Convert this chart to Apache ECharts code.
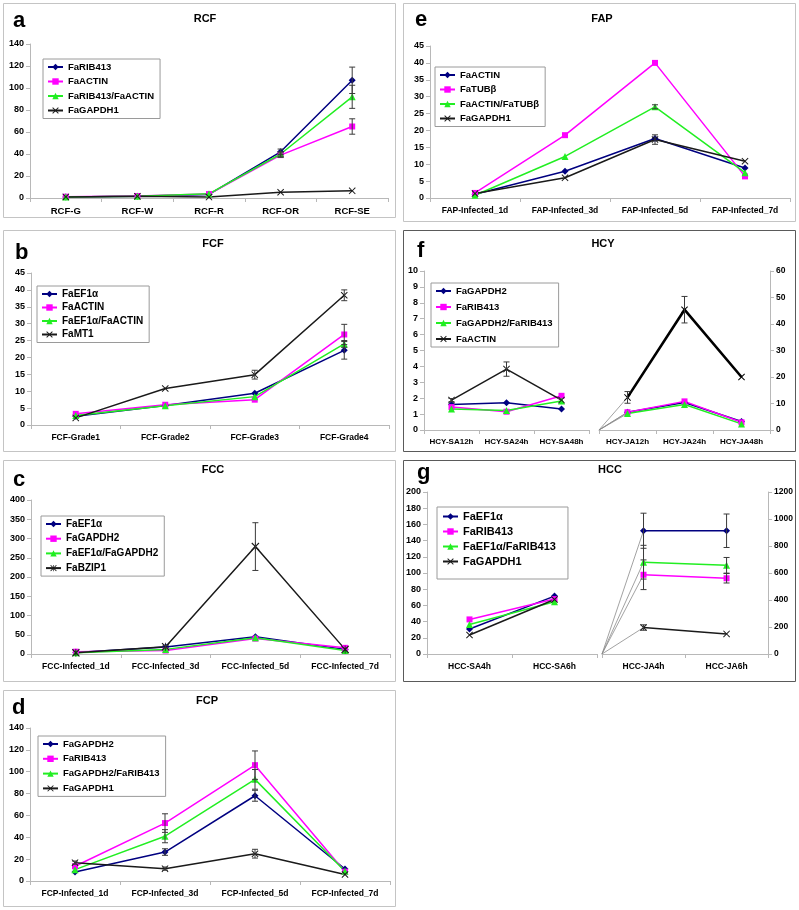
<!DOCTYPE html>
<html><head><meta charset="utf-8">
<script src="https://cdn.jsdelivr.net/npm/echarts@6/dist/echarts.min.js"></script>
<style>
html,body{margin:0;padding:0;background:#fff;}
body{width:799px;height:910px;position:relative;overflow:hidden;}
.p{position:absolute;}
</style></head><body>
<div id="pa" class="p"></div><div id="pb" class="p"></div><div id="pc" class="p"></div><div id="pd" class="p"></div>
<div id="pe" class="p"></div><div id="pf" class="p"></div><div id="pg" class="p"></div>
<script>
// ---------------- DATA ----------------
// a: RCF
const rcfCats = ['RCF-G','RCF-W','RCF-R','RCF-OR','RCF-SE'];
const rcfRIB413 = [1.0, 1.6, 3.2, 42, 107];
const rcfRIB413Err = [0, 0, 0, 2.5, 12];
const rcfACTIN = [1.2, 1.8, 3.6, 39, 65];
const rcfACTINErr = [0, 0, 0, 2, 7];
const rcfRatio = [0.8, 1.5, 3.8, 40, 92];
const rcfRatioErr = [0, 0, 0, 2, 10.5];
const rcfGAPDH1 = [1.0, 1.5, 0.8, 5.2, 6.5];
// b: FCF
const fcfCats = ['FCF-Grade1','FCF-Grade2','FCF-Grade3','FCF-Grade4'];
const fcfEF1a = [2.6, 5.8, 9.4, 22.1];
const fcfEF1aErr = [0, 0, 0, 2.6];
const fcfACTIN = [3.3, 6.0, 7.5, 26.8];
const fcfACTINErr = [0, 0, 0, 3];
const fcfRatio = [2.8, 5.7, 8.4, 24];
const fcfRatioErr = [0, 0, 0, 1];
const fcfMT1 = [2.1, 10.8, 14.9, 38.4];
const fcfMT1Err = [0, 0, 1.3, 1.6];
// c: FCC
const fccCats = ['FCC-Infected_1d','FCC-Infected_3d','FCC-Infected_5d','FCC-Infected_7d'];
const fccEF1a = [4, 18, 45, 12];
const fccGAPDH2 = [6, 9, 40, 16];
const fccRatio = [3, 12, 42, 9];
const fccBZIP1 = [3, 19, 279, 12];
const fccBZIP1Err = [0, 3, 62, 0];
// d: FCP
const fcpCats = ['FCP-Infected_1d','FCP-Infected_3d','FCP-Infected_5d','FCP-Infected_7d'];
const fcpGAPDH2 = [8.3, 26.5, 78, 11];
const fcpGAPDH2Err = [0, 3, 5, 0];
const fcpRIB413 = [13.5, 53, 106, 8.5];
const fcpRIB413Err = [0, 8.5, 13, 0];
const fcpRatio = [10.4, 41, 93, 9];
const fcpRatioErr = [0, 6, 9, 0];
const fcpGAPDH1 = [16.8, 11.3, 25, 6];
const fcpGAPDH1Err = [1.5, 1.5, 4, 0];
// e: FAP
const fapCats = ['FAP-Infected_1d','FAP-Infected_3d','FAP-Infected_5d','FAP-Infected_7d'];
const fapACTIN = [1.1, 7.9, 17.6, 8.9];
const fapTUBb = [1.5, 18.6, 40, 6.4];
const fapRatio = [0.8, 12.3, 27, 7.5];
const fapRatioErr = [0, 0, 0.6, 0];
const fapGAPDH1 = [1.3, 6, 17.3, 10.9];
const fapGAPDH1Err = [0, 0, 1.4, 0];
// f: HCY (SA on left axis, JA on right axis)
const hcySACats = ['HCY-SA12h','HCY-SA24h','HCY-SA48h'];
const hcyJACats = ['HCY-JA12h','HCY-JA24h','HCY-JA48h'];
const hcySAGAPDH2 = [1.61, 1.72, 1.32];
const hcySARIB413 = [1.44, 1.15, 2.15];
const hcySARatio = [1.32, 1.23, 1.82];
const hcySAACTIN = [1.88, 3.83, 1.88];
const hcySAACTINErr = [0.1, 0.45, 0];
const hcyJAGAPDH2 = [6.7, 10.4, 3.2];
const hcyJARIB413 = [6.7, 10.8, 2.9];
const hcyJARatio = [6.2, 9.6, 2.3];
const hcyJAACTIN = [12.3, 45.4, 20];
const hcyJAACTINErr = [2.2, 5, 0];
// g: HCC (SA on left axis, JA on right axis)
const hccSACats = ['HCC-SA4h','HCC-SA6h'];
const hccJACats = ['HCC-JA4h','HCC-JA6h'];
const hccSAEF1a = [30.8, 71.5];
const hccSARIB413 = [42.7, 67.8];
const hccSARatio = [36.5, 64.5];
const hccSAGAPDH1 = [23.4, 67.3];
const hccJAEF1a = [913, 913];
const hccJAEF1aErr = [130, 124];
const hccJARIB413 = [587, 561];
const hccJARIB413Err = [110, 35];
const hccJARatio = [680, 657];
const hccJARatioErr = [125, 58];
const hccJAGAPDH1 = [196, 149];
const hccJAGAPDH1Err = [20, 0];

// ---------------- STYLE ----------------
const FONT = 'Arial, "Liberation Sans", Helvetica, sans-serif';
const NAVY = '#000080', MAG = '#ff00ff', GRN = '#22ee22', BLK = '#1a1a1a';
const AXC = '#b8b8b8';
const XPATH = 'path://M0,1L1,0L5,4L9,0L10,1L6,5L10,9L9,10L5,6L1,10L0,9L4,5Z';
const SYM = {
  dia: ['diamond', 7], sq: ['rect', 6], tri: ['triangle', 7],
  x: [XPATH, 7], ast: [XPATH + 'M4.5,0L5.5,0L5.5,10L4.5,10Z', 8]
};

function S(name, color, sym, data, err, extra) {
  return Object.assign({name, color, sym, data, err}, extra || {});
}

const panels = [
  {id:'pa', box:[3,3,393,215], border:'#c4c4c4', letter:'a', letterPos:[13,28], title:'RCF', titlePos:[205,19],
   legend:{x:43, y:59, fs:9.5, pitch:14},
   plots:[{x0:30, x1:388, y0:44, y1:198, cats:rcfCats, yMax:140, yInt:20, lfs:9.5, series:[
     S('FaRIB413', NAVY, 'dia', rcfRIB413, rcfRIB413Err),
     S('FaACTIN', MAG, 'sq', rcfACTIN, rcfACTINErr),
     S('FaRIB413/FaACTIN', GRN, 'tri', rcfRatio, rcfRatioErr),
     S('FaGAPDH1', BLK, 'x', rcfGAPDH1, null)]}]},
  {id:'pb', box:[3,230,393,222], border:'#c4c4c4', letter:'b', letterPos:[15,260], title:'FCF', titlePos:[213,244],
   legend:{x:37, y:286, fs:10, pitch:13.5},
   plots:[{x0:31, x1:389, y0:273, y1:425, cats:fcfCats, yMax:45, yInt:5, lfs:8.5, series:[
     S('FaEF1α', NAVY, 'dia', fcfEF1a, fcfEF1aErr),
     S('FaACTIN', MAG, 'sq', fcfACTIN, fcfACTINErr),
     S('FaEF1α/FaACTIN', GRN, 'tri', fcfRatio, fcfRatioErr),
     S('FaMT1', BLK, 'x', fcfMT1, fcfMT1Err)]}]},
  {id:'pc', box:[3,460,393,222], border:'#c4c4c4', letter:'c', letterPos:[13,487], title:'FCC', titlePos:[213,470],
   legend:{x:41, y:516, fs:10, pitch:14.7},
   plots:[{x0:31, x1:390, y0:500, y1:654, cats:fccCats, yMax:400, yInt:50, lfs:8.5, series:[
     S('FaEF1α', NAVY, 'dia', fccEF1a, null),
     S('FaGAPDH2', MAG, 'sq', fccGAPDH2, null),
     S('FaEF1α/FaGAPDH2', GRN, 'tri', fccRatio, null),
     S('FaBZIP1', BLK, 'ast', fccBZIP1, fccBZIP1Err)]}]},
  {id:'pd', box:[3,690,393,217], border:'#c4c4c4', letter:'d', letterPos:[12,715], title:'FCP', titlePos:[207,701],
   legend:{x:38, y:736, fs:9.5, pitch:14.3},
   plots:[{x0:30, x1:390, y0:728, y1:881, cats:fcpCats, yMax:140, yInt:20, lfs:8.5, series:[
     S('FaGAPDH2', NAVY, 'dia', fcpGAPDH2, fcpGAPDH2Err),
     S('FaRIB413', MAG, 'sq', fcpRIB413, fcpRIB413Err),
     S('FaGAPDH2/FaRIB413', GRN, 'tri', fcpRatio, fcpRatioErr),
     S('FaGAPDH1', BLK, 'x', fcpGAPDH1, fcpGAPDH1Err)]}]},
  {id:'pe', box:[403,3,393,219], border:'#c4c4c4', letter:'e', letterPos:[415,27], title:'FAP', titlePos:[602,19],
   legend:{x:435, y:67, fs:9.5, pitch:14},
   plots:[{x0:430, x1:790, y0:46, y1:198, cats:fapCats, yMax:45, yInt:5, lfs:8.5, series:[
     S('FaACTIN', NAVY, 'dia', fapACTIN, null),
     S('FaTUBβ', MAG, 'sq', fapTUBb, null),
     S('FaACTIN/FaTUBβ', GRN, 'tri', fapRatio, fapRatioErr),
     S('FaGAPDH1', BLK, 'x', fapGAPDH1, fapGAPDH1Err)]}]},
  {id:'pf', box:[403,230,393,222], border:'#5a5a5a', letter:'f', letterPos:[417,258], title:'HCY', titlePos:[603,244],
   legend:{x:431, y:283, fs:9.5, pitch:15.5},
   plots:[
    {x0:424, x1:589, y0:271, y1:430, cats:hcySACats, yMax:10, yInt:1, lfs:8, series:[
     S('FaGAPDH2', NAVY, 'dia', hcySAGAPDH2, null),
     S('FaRIB413', MAG, 'sq', hcySARIB413, null),
     S('FaGAPDH2/FaRIB413', GRN, 'tri', hcySARatio, null),
     S('FaACTIN', BLK, 'x', hcySAACTIN, hcySAACTINErr)]},
    {x0:599, x1:770, y0:271, y1:430, cats:hcyJACats, yMax:60, yInt:10, lfs:8, split:true, series:[
     S('FaGAPDH2', NAVY, 'dia', hcyJAGAPDH2, null),
     S('FaRIB413', MAG, 'sq', hcyJARIB413, null),
     S('FaGAPDH2/FaRIB413', GRN, 'tri', hcyJARatio, null),
     S('FaACTIN', '#000', 'x', hcyJAACTIN, hcyJAACTINErr, {lw:2.6})]}]},
  {id:'pg', box:[403,460,393,222], border:'#5a5a5a', letter:'g', letterPos:[417,480], title:'HCC', titlePos:[610,470],
   legend:{x:437, y:507, fs:11, pitch:15, pad:[4, 12, 12, 5]},
   plots:[
    {x0:427, x1:597, y0:492, y1:654, cats:hccSACats, yMax:200, yInt:20, lfs:8.5, series:[
     S('FaEF1α', NAVY, 'dia', hccSAEF1a, null),
     S('FaRIB413', MAG, 'sq', hccSARIB413, null),
     S('FaEF1α/FaRIB413', GRN, 'tri', hccSARatio, null),
     S('FaGAPDH1', BLK, 'x', hccSAGAPDH1, null)]},
    {x0:602, x1:770, y0:492, y1:654, cats:hccJACats, yMax:1200, yInt:200, lfs:8.5, split:true, series:[
     S('FaEF1α', NAVY, 'dia', hccJAEF1a, hccJAEF1aErr),
     S('FaRIB413', MAG, 'sq', hccJARIB413, hccJARIB413Err),
     S('FaEF1α/FaRIB413', GRN, 'tri', hccJARatio, hccJARatioErr),
     S('FaGAPDH1', BLK, 'x', hccJAGAPDH1, hccJAGAPDH1Err)]}]}
];

function errSeries(gi, items) {
  return {
    type: 'custom', xAxisIndex: gi, yAxisIndex: gi, silent: true, z: 3,
    encode: {x: 0, y: 1},
    renderItem: function (params, api) {
      const x = api.value(0), y = api.value(1), e = api.value(2);
      const t = api.coord([x, y + e]), b = api.coord([x, y - e]);
      const w = 3, st = {stroke: '#3a3a3a', lineWidth: 1};
      return {type: 'group', children: [
        {type: 'line', shape: {x1: t[0], y1: t[1], x2: b[0], y2: b[1]}, style: st},
        {type: 'line', shape: {x1: t[0] - w, y1: t[1], x2: t[0] + w, y2: t[1]}, style: st},
        {type: 'line', shape: {x1: b[0] - w, y1: b[1], x2: b[0] + w, y2: b[1]}, style: st}
      ]};
    },
    data: items
  };
}

function build(p) {
  const [ox, oy, w, h] = p.box;
  const el = document.getElementById(p.id);
  el.style.left = ox + 'px'; el.style.top = oy + 'px';
  el.style.width = w + 'px'; el.style.height = h + 'px';
  const chart = echarts.init(el, null, {renderer: 'canvas', width: w, height: h});
  const grid = [], xAxis = [], yAxis = [], series = [];
  p.plots.forEach((pl, gi) => {
    grid.push({left: pl.x0 - ox, top: pl.y0 - oy, width: pl.x1 - pl.x0, height: pl.y1 - pl.y0, containLabel: false});
    let cats = pl.cats;
    if (pl.split) {
      cats = ['_0'];
      pl.cats.forEach((c, i) => { cats.push(c); cats.push('_' + (2 * i + 2)); });
    }
    xAxis.push({
      type: 'category', gridIndex: gi, data: cats, boundaryGap: !pl.split,
      axisLine: {show: true, lineStyle: {color: AXC, width: 1}},
      axisTick: {show: true, length: 4, lineStyle: {color: AXC},
                 interval: pl.split ? function (i) { return i % 2 === 0; } : 'auto'},
      axisLabel: {interval: 0, margin: 8, color: '#000', fontWeight: 'bold', fontSize: pl.lfs, fontFamily: FONT,
                  formatter: v => (v.charAt(0) === '_' ? '' : v)},
      splitLine: {show: false}
    });
    yAxis.push({
      type: 'value', gridIndex: gi, position: pl.split ? 'right' : 'left', min: 0, max: pl.yMax, interval: pl.yInt,
      axisLine: {show: true, lineStyle: {color: AXC, width: 1}},
      axisTick: {show: true, length: 4, lineStyle: {color: AXC}},
      axisLabel: {margin: 6, color: '#000', fontWeight: 'bold', fontSize: pl.split ? 8.5 : 9, fontFamily: FONT,
                  formatter: v => String(v)},
      splitLine: {show: false}
    });
    pl.series.forEach(s => {
      const [sym, size] = SYM[s.sym];
      let data = s.data;
      if (pl.split) {
        data = ['-'];
        s.data.forEach(v => { data.push(v); data.push('-'); });
        series.push({
          type: 'line', xAxisIndex: gi, yAxisIndex: gi, data: [0, s.data[0]], symbol: 'none', silent: true, z: 1,
          lineStyle: {color: '#8a8a8a', width: 0.8}, animation: false
        });
      }
      series.push({
        name: s.name, type: 'line', xAxisIndex: gi, yAxisIndex: gi, data: data, connectNulls: true,
        symbol: sym, symbolSize: size, showAllSymbol: true, z: 2, animation: false,
        lineStyle: {color: s.color, width: s.lw || 1.5},
        itemStyle: {color: s.color, borderWidth: 0}
      });
      if (s.err) {
        const items = [];
        s.err.forEach((e, i) => { if (e) items.push([pl.split ? 2 * i + 1 : i, s.data[i], e]); });
        if (items.length) series.push(errSeries(gi, items));
      }
    });
  });
  const lg = p.legend;
  const names = p.plots[0].series.map(s => s.name);
  const graphic = [
    {type: 'rect', silent: true, z: 100, shape: {x: 0.5, y: 0.5, width: w - 1, height: h - 1},
     style: {fill: null, stroke: p.border, lineWidth: 1}},
    {type: 'text', silent: true, x: p.letterPos[0] - ox, y: p.letterPos[1] - oy + 4,
     style: {text: p.letter, font: 'bold 22px ' + FONT, fill: '#000', textAlign: 'left', textVerticalAlign: 'bottom'}},
    {type: 'text', silent: true, x: p.titlePos[0] - ox, y: p.titlePos[1] - oy,
     style: {text: p.title, font: 'bold 11px ' + FONT, fill: '#000', textAlign: 'center', textVerticalAlign: 'middle'}}
  ];
  chart.setOption({
    animation: false,
    backgroundColor: '#fff',
    grid, xAxis, yAxis, series, graphic,
    legend: {
      data: names, orient: 'vertical', left: lg.x - ox, top: lg.y - oy,
      itemWidth: 15, itemHeight: 8, itemGap: lg.pitch - lg.fs,
      padding: lg.pad || [3, 6, 3, 4], borderColor: '#9a9a9a', borderWidth: 1, backgroundColor: '#fff',
      selectedMode: false,
      textStyle: {fontWeight: 'bold', fontSize: lg.fs, fontFamily: FONT, color: '#000'}
    }
  });
}
panels.forEach(build);
</script>
</body></html>
